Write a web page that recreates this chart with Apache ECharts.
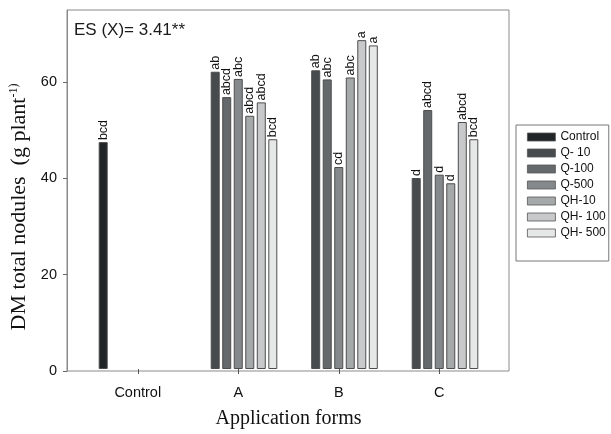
<!DOCTYPE html>
<html>
<head>
<meta charset="utf-8">
<script src="https://cdn.jsdelivr.net/npm/echarts@6/dist/echarts.min.js"></script>
<style>html,body{margin:0;padding:0;background:#fff;}#c{width:611px;height:434px;}</style>
</head>
<body>
<div id="c"></div>
<script>
// ---- data ----
const categories = ['Control', 'A', 'B', 'C'];
const seriesNames = ['Control', 'Q- 10', 'Q-100', 'Q-500', 'QH-10', 'QH- 100', 'QH- 500'];
const controlValues = [47.4, null, null, null];
const q10Values     = [null, 62.1, 62.4, 39.9];
const q100Values    = [null, 56.8, 60.5, 54.1];
const q500Values    = [null, 60.6, 42.2, 40.6];
const qh10Values    = [null, 52.9, 60.9, 38.8];
const qh100Values   = [null, 55.7, 68.7, 51.6];
const qh500Values   = [null, 48.0, 67.6, 48.0];
const controlLetters = ['bcd', '', '', ''];
const q10Letters     = ['', 'ab', 'ab', 'd'];
const q100Letters    = ['', 'abcd', 'abc', 'abcd'];
const q500Letters    = ['', 'abc', 'cd', 'd'];
const qh10Letters    = ['', 'abcd', 'abc', 'd'];
const qh100Letters   = ['', 'abcd', 'a', 'abcd'];
const qh500Letters   = ['', 'bcd', 'a', 'bcd'];
const yTicks = [0, 20, 40, 60];

const allValues = [controlValues, q10Values, q100Values, q500Values, qh10Values, qh100Values, qh500Values];
const allLetters = [controlLetters, q10Letters, q100Letters, q500Letters, qh10Letters, qh100Letters, qh500Letters];
const colors = ['#212527', '#474b4d', '#65696b', '#85898b', '#a6a9aa', '#c7c9ca', '#e6e7e7'];

const sans = '"Liberation Sans", Arial, sans-serif';
const serif = '"Liberation Serif", "Times New Roman", serif';

const series = seriesNames.map((name, i) => ({
  name: name,
  type: 'bar',
  xAxisIndex: 0,
  yAxisIndex: 0,
  data: allValues[i],
  barWidth: 9,
  barGap: '28%',
  itemStyle: { color: colors[i], borderColor: '#4d4d4d', borderWidth: 1 },
  label: {
    show: true,
    position: 'top',
    rotate: 90,
    align: 'left',
    verticalAlign: 'middle',
    distance: 2,
    fontFamily: sans,
    fontSize: 12.5,
    color: '#111',
    formatter: p => allLetters[i][p.dataIndex] || ''
  },
  emphasis: { disabled: true },
  animation: false
}));

const chart = echarts.init(document.getElementById('c'), null, { renderer: 'canvas' });
chart.setOption({
  animation: false,
  backgroundColor: '#fff',
  title: {
    text: 'ES (X)= 3.41**',
    left: 74, top: 22, padding: 0,
    textStyle: { fontFamily: sans, fontSize: 17, fontWeight: 'normal', color: '#1a1a1a' }
  },
  legend: {
    orient: 'vertical',
    left: 516, top: 125,
    padding: [6, 3, 22, 11],
    itemWidth: 28, itemHeight: 8, itemGap: 4,
    icon: 'rect',
    borderColor: '#777', borderWidth: 1,
    selectedMode: false,
    data: seriesNames,
    itemStyle: { borderWidth: 0.8, borderColor: '#555' },
    textStyle: { fontFamily: sans, fontSize: 12, color: '#111' }
  },
  grid: [
    { left: 87.5, right: 121.5, top: 10, bottom: 63 },
    { left: 67, right: 102, top: 10, bottom: 63, show: true, borderColor: '#8a8a8a', borderWidth: 1 }
  ],
  xAxis: [
    {
      type: 'category', gridIndex: 0, data: categories,
      axisLine: { show: false },
      axisTick: { show: true, alignWithLabel: true, length: 5, lineStyle: { color: '#555' } },
      axisLabel: { fontFamily: sans, fontSize: 14.5, color: '#111', margin: 16 },
      name: 'Application forms', nameLocation: 'middle', nameGap: 40,
      nameTextStyle: { fontFamily: serif, fontSize: 20, color: '#111' }
    },
    { type: 'value', gridIndex: 1, show: false, min: 0, max: 1 }
  ],
  yAxis: [
    { type: 'value', gridIndex: 0, min: 0, max: 75, interval: 20, show: false },
    {
      type: 'value', gridIndex: 1, min: 0, max: 75, interval: 20,
      axisLine: { show: true, lineStyle: { color: '#8a8a8a' } },
      axisTick: { show: true, length: 4, customValues: yTicks, lineStyle: { color: '#666' } },
      axisLabel: { fontFamily: sans, fontSize: 14.5, color: '#111', margin: 10, customValues: yTicks },
      splitLine: { show: false }
    }
  ],
  graphic: [{
    type: 'text',
    x: 19, y: 207,
    rotation: Math.PI / 2,
    style: {
      text: '{m|DM total nodules  (g plant}{s|-1)}',
      align: 'center', verticalAlign: 'middle',
      fill: '#111',
      rich: {
        m: { fontFamily: serif, fontSize: 22, fill: '#111', color: '#111' },
        s: { fontFamily: serif, fontSize: 12, fill: '#111', color: '#111', verticalAlign: 'top' }
      }
    }
  }],
  series: series
});
</script>
</body>
</html>
